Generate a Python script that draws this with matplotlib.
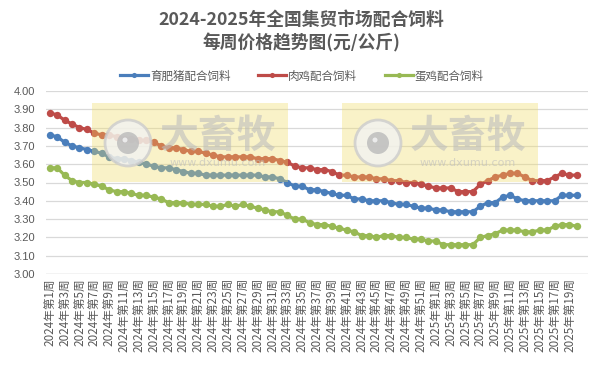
import matplotlib
matplotlib.use("Agg")
import matplotlib.pyplot as plt
from matplotlib.patches import Rectangle, Ellipse
import numpy as np

plt.rcParams['font.family'] = ['Noto Sans CJK SC', 'DejaVu Sans']

# ---- data ----
weeks_2024 = [f"2024年第{i}周" for i in range(1, 53)]
weeks_2025 = [f"2025年第{i}周" for i in range(1, 21)]
categories = weeks_2024 + weeks_2025

pig_feed = [3.76, 3.75, 3.72, 3.70, 3.69, 3.68, 3.67, 3.66, 3.64, 3.63, 3.63, 3.62,
            3.61, 3.60, 3.59, 3.58, 3.58, 3.57, 3.56, 3.55, 3.55, 3.54, 3.54, 3.54,
            3.54, 3.54, 3.54, 3.54, 3.54, 3.53, 3.53, 3.52, 3.50, 3.48,
            3.48, 3.46, 3.46, 3.45, 3.44, 3.43, 3.43, 3.41, 3.41, 3.40, 3.40, 3.40,
            3.39, 3.38, 3.38, 3.37, 3.36, 3.36, 3.35, 3.35, 3.34, 3.34, 3.34, 3.34,
            3.37, 3.39, 3.39, 3.42, 3.43, 3.41, 3.40, 3.40, 3.40, 3.40, 3.40, 3.43,
            3.43, 3.43]
broiler_feed = [3.88, 3.87, 3.84, 3.82, 3.80, 3.79, 3.77, 3.76, 3.76, 3.75, 3.74, 3.74,
                3.73, 3.73, 3.72, 3.70, 3.69, 3.69, 3.68, 3.67, 3.67, 3.66, 3.65, 3.64,
                3.64, 3.64, 3.64, 3.64, 3.63, 3.63, 3.63, 3.62, 3.61, 3.59,
                3.58, 3.58, 3.57, 3.57, 3.56, 3.54, 3.54, 3.53, 3.53, 3.53, 3.52, 3.52,
                3.51, 3.51, 3.50, 3.50, 3.49, 3.48, 3.47, 3.47, 3.47, 3.45, 3.45, 3.45,
                3.49, 3.51, 3.53, 3.54, 3.55, 3.55, 3.53, 3.51, 3.51, 3.51, 3.53, 3.55,
                3.54, 3.54]
layer_feed = [3.58, 3.58, 3.54, 3.51, 3.50, 3.50, 3.49, 3.48, 3.46, 3.45, 3.45, 3.44,
              3.43, 3.43, 3.42, 3.41, 3.39, 3.39, 3.39, 3.38, 3.38, 3.38, 3.37, 3.37,
              3.38, 3.37, 3.38, 3.37, 3.36, 3.35, 3.34, 3.34, 3.32, 3.30,
              3.30, 3.28, 3.27, 3.27, 3.26, 3.25, 3.24, 3.23, 3.21, 3.21, 3.20, 3.21,
              3.21, 3.20, 3.20, 3.19, 3.19, 3.18, 3.18, 3.16, 3.16, 3.16, 3.16, 3.16,
              3.20, 3.21, 3.22, 3.24, 3.24, 3.24, 3.23, 3.23, 3.24, 3.24, 3.26, 3.27,
              3.27, 3.26]

series_names = ["育肥猪配合饲料", "肉鸡配合饲料", "蛋鸡配合饲料"]
series_values = [pig_feed, broiler_feed, layer_feed]
series_colors = ["#4a7ebb", "#be4b48", "#98b954"]

# ---- figure ----
W, H = 603, 366
fig = plt.figure(figsize=(W / 100, H / 100), dpi=100)
fig.patch.set_facecolor("white")

left_px, right_px, top_px, bot_px = 46, 588, 91, 274
ax = fig.add_axes([left_px / W, 1 - bot_px / H, (right_px - left_px) / W, (bot_px - top_px) / H])

x = np.arange(len(categories))
for name, vals, col in zip(series_names, series_values, series_colors):
    ax.plot(x[:len(vals)], vals, color=col, lw=2.3, marker="o", ms=5.3,
            markeredgewidth=0, label=name, zorder=3)

ax.set_xlim(-0.5, len(categories) + 0.5)
ax.set_ylim(3.0, 4.0)
yt = np.round(np.arange(3.0, 4.01, 0.1), 2)
ax.set_yticks(yt)
ax.set_yticklabels([f"{v:.2f}" for v in yt], fontsize=8, color="#595959",
                   family=['Liberation Sans', 'DejaVu Sans'])
ax.grid(axis="y", color="#d9d9d9", lw=0.9, zorder=0)
ax.set_axisbelow(True)
for s in ax.spines.values():
    s.set_visible(False)
ax.tick_params(axis="both", length=0)
ax.tick_params(axis="y", pad=8)
ax.set_xticks(x[::2])
ax.set_xticklabels(categories[::2], rotation=90, fontsize=8.4, color="#595959")
ax.tick_params(axis="x", pad=3)
ax.axhline(3.0, color="#d9d9d9", lw=1.0, zorder=1)

# ---- watermarks ----
def px2fig(px, py):
    return px / W, 1 - py / H

for (x0, x1) in [(92, 288), (342, 538)]:
    fx0, fy1 = px2fig(x0, 103)
    fx1, fy0 = px2fig(x1, 182)
    fig.patches.append(Rectangle((fx0, fy0), fx1 - fx0, fy1 - fy0, transform=fig.transFigure,
                                 facecolor="#f0dc64", alpha=0.35, edgecolor="none", zorder=5))
    cx, cy = px2fig(x0 + 36, 143)
    fig.patches.append(Ellipse((cx, cy), 46 / W, 46 / H, transform=fig.transFigure,
                               facecolor="#f2f2f2", edgecolor="#cccccc", lw=2.0, alpha=0.8, zorder=6))
    fig.patches.append(Ellipse((cx, cy), 22 / W, 22 / H, transform=fig.transFigure,
                               facecolor="#bdbdbd", edgecolor="none", alpha=0.85, zorder=7))
    hx, hy = px2fig(x0 + 33, 140)
    fig.patches.append(Ellipse((hx, hy), 5 / W, 5 / H, transform=fig.transFigure,
                               facecolor="#f0f0f0", edgecolor="none", alpha=0.9, zorder=8))
    tx, ty = px2fig(x0 + 126, 136)
    fig.text(tx, ty, "大畜牧", fontsize=28, fontweight="bold", color="#bdbdbd", alpha=0.6,
             ha="center", va="center", zorder=7)
    ux, uy = px2fig(x0 + 126, 163)
    fig.text(ux, uy, "www.dxumu.com", fontsize=8, color="#bdbdbd", alpha=0.6,
             ha="center", va="center", zorder=7, family=['DejaVu Sans'])

# ---- title ----
fig.text(0.5, 1 - 20 / H, "2024-2025年全国集贸市场配合饲料", ha="center", va="center",
         fontsize=12.8, fontweight="bold", color="#595959")
fig.text(0.5, 1 - 43 / H, "每周价格趋势图(元/公斤)", ha="center", va="center",
         fontsize=12.8, fontweight="bold", color="#595959")

# ---- legend ----
leg = fig.legend(loc="center", bbox_to_anchor=(302 / W, 1 - 76 / H), ncol=3, frameon=False,
                 fontsize=8.3, handlelength=2.4, columnspacing=2.4, handletextpad=0.2,
                 labelcolor="#595959", markerscale=0.7)

fig.savefig("out.png", dpi=100, facecolor="white")
